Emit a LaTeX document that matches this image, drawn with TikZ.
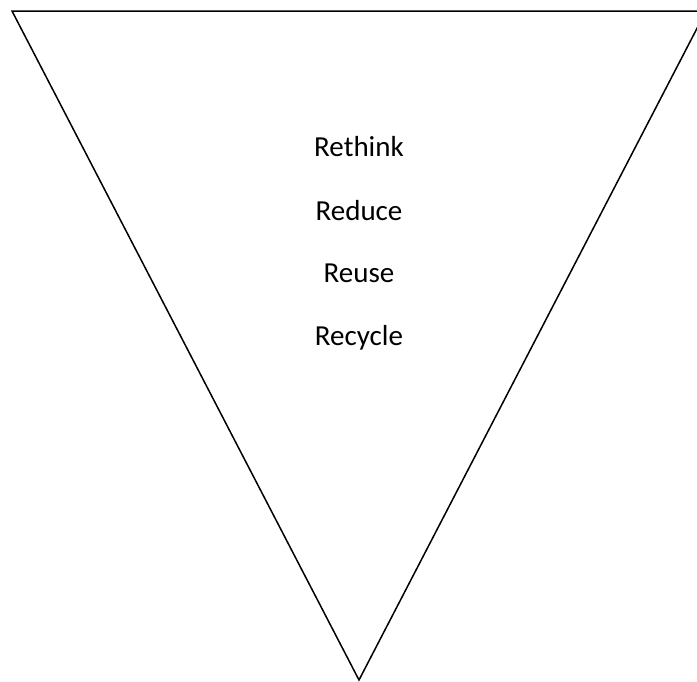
\documentclass[tikz,border=0pt]{standalone}
\usepackage{fontspec}
\setmainfont{Carlito}
\begin{document}
\begin{tikzpicture}[x=1pt,y=-1pt,
  lbl/.style={anchor=base,inner sep=0pt,font=\fontsize{29}{33}\selectfont}]
\useasboundingbox (0,0) rectangle (697,681);
\clip (0,0) rectangle (697,681);
\coordinate (tl) at (12,11);
\coordinate (tr) at (706,11);
\coordinate (ap) at (359,680);
\draw[line width=1.5pt,line join=miter] (tl) -- (tr) -- (ap) -- cycle;
\node[lbl] (rethink) at (359,156) {Rethink};
\node[lbl] (reduce) at (359,220) {Reduce};
\node[lbl] (reuse) at (359,282) {Reuse};
\node[lbl] (recycle) at (359,345) {Recycle};
\end{tikzpicture}
\end{document}
